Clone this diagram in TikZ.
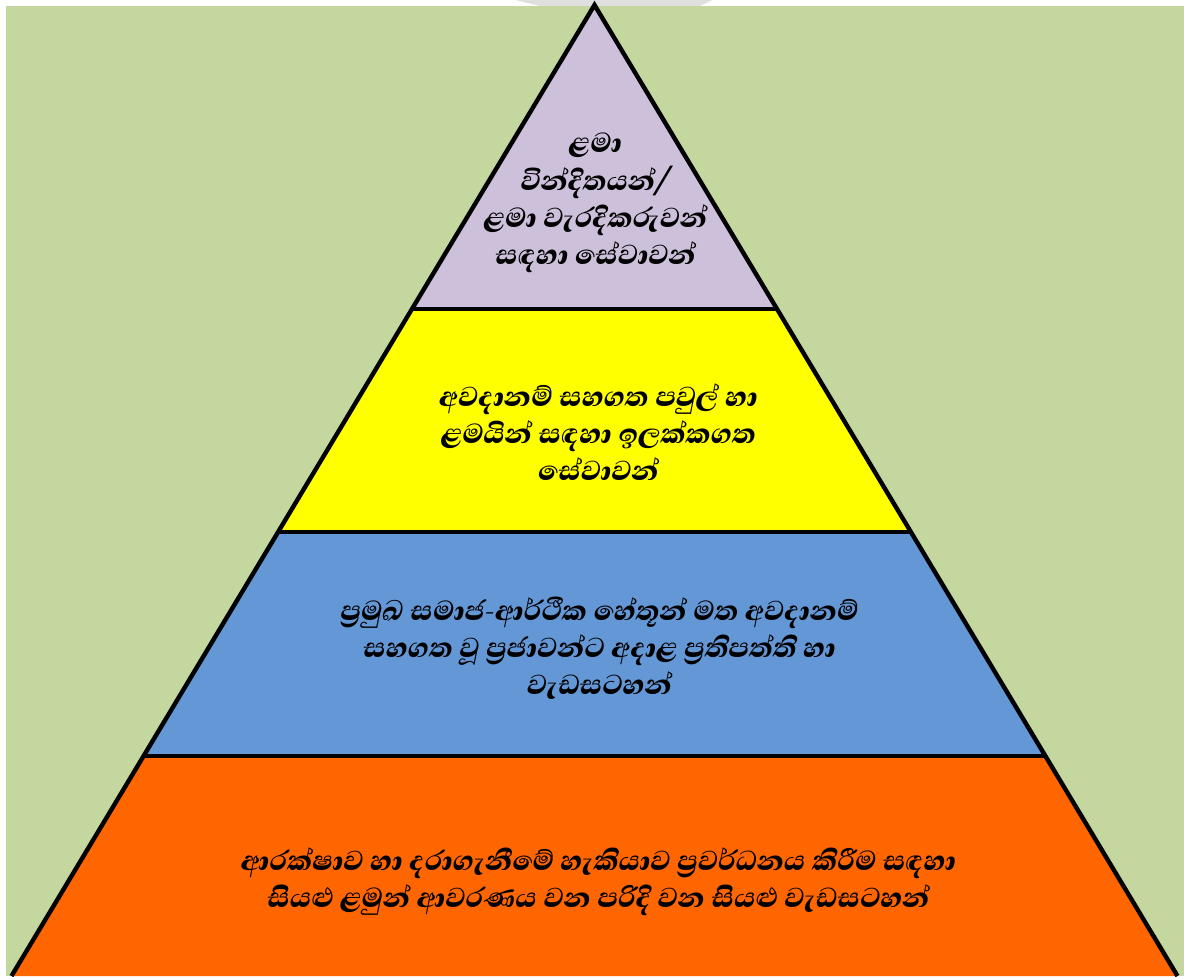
\documentclass[tikz,border=0pt]{standalone}
\usepackage{fontspec}
\newfontfamily\sinfont{Abhaya Libre}[Script=Sinhala, FakeSlant=0.2, BoldFont={Abhaya Libre ExtraBold}]
\usetikzlibrary{positioning}
\definecolor{bggreen}{HTML}{C4D79F}
\definecolor{tipviolet}{HTML}{CCC0DA}
\definecolor{riskyellow}{HTML}{FFFF00}
\definecolor{policyblue}{HTML}{6497D6}
\definecolor{baseorange}{HTML}{FF6600}
\begin{document}
\begin{tikzpicture}[x=0.5pt, y=-0.5pt,
  layertext/.style={align=center, font=\sinfont\bfseries\fontsize{17.6}{18.6}\selectfont},
  layerline/.style={line width=2.2pt, line join=miter}]
\useasboundingbox (0,0) rectangle (1184,976);
\fill[gray!25] (515,0) -- (712,0) -- (700,6) -- (540,6) -- cycle;
\fill[bggreen] (6,6) rectangle (1184,976);

% pyramid corners
\coordinate (apex) at (594.5,5);
\coordinate (l1) at (412.1,309);  \coordinate (r1) at (776.9,309);
\coordinate (l2) at (278.3,532);  \coordinate (r2) at (910.7,532);
\coordinate (l3) at (143.9,756);  \coordinate (r3) at (1045.1,756);
\coordinate (l4) at (11.5,976);   \coordinate (r4) at (1177.5,976);

% layers
\fill[tipviolet] (apex) -- (r1) -- (l1) -- cycle;
\fill[riskyellow] (l1) -- (r1) -- (r2) -- (l2) -- cycle;
\fill[policyblue] (l2) -- (r2) -- (r3) -- (l3) -- cycle;
\fill[baseorange] (l3) -- (r3) -- (r4) -- (l4) -- cycle;
\draw[layerline] (l4) -- (apex) -- (r4);
\draw[layerline] (l1) -- (r1);
\draw[layerline] (l2) -- (r2);
\draw[layerline] (l3) -- (r3);

% texts
\node[layertext] (tip) at (594,203) {ළමා\\වින්දිතයන්/\\ළමා වැරදිකරුවන්\\සඳහා සේවාවන්};
\node[layertext] (risk) at (597,432) {අවදානම් සහගත පවුල් හා\\ළමයින් සඳහා ඉලක්කගත\\සේවාවන්};
\node[layertext] (policy) at (598,648) {ප්‍රමුඛ සමාජ-ආර්ථීක හේතූන් මත අවදානම්\\සහගත වූ ප්‍රජාවන්ට අදාළ ප්‍රතිපත්ති හා\\වැඩසටහන්};
\node[layertext] (base) at (597,882) {ආරක්ෂාව හා දරාගැනීමේ හැකියාව ප්‍රවර්ධනය කිරීම සඳහා\\සියළු ළමුන් ආවරණය වන පරිදි වන සියළු වැඩසටහන්};
\end{tikzpicture}
\end{document}
